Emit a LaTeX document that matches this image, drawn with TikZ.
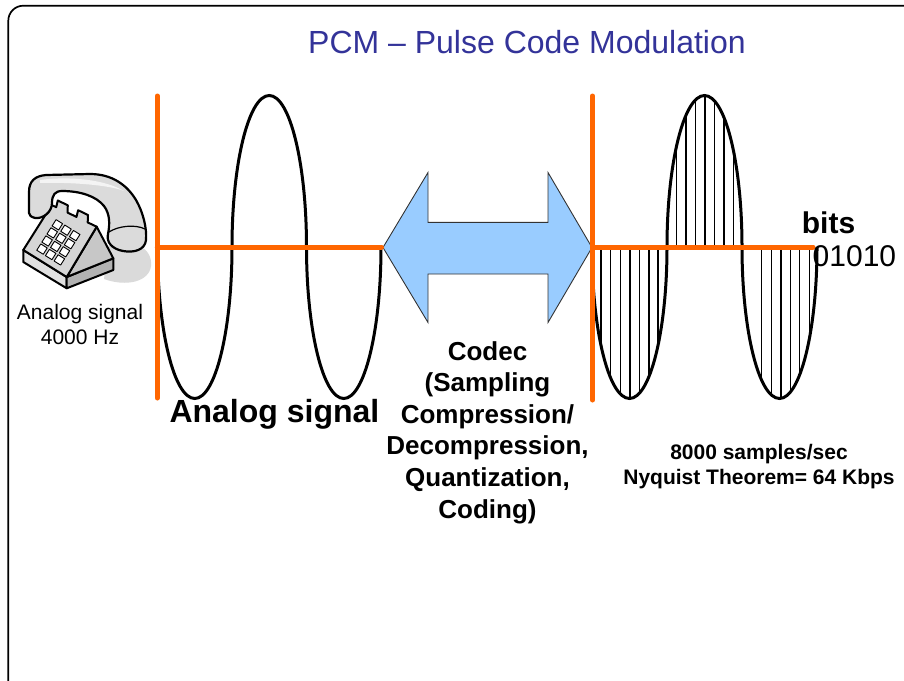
\documentclass[tikz,border=0pt]{standalone}
\usepackage{fontspec}
\setmainfont{Liberation Sans}
\usetikzlibrary{calc}
\definecolor{pcmorange}{RGB}{255,102,0}
\definecolor{codecblue}{RGB}{153,204,255}
\definecolor{titleblue}{RGB}{51,51,153}
\definecolor{shadowgray}{RGB}{218,218,218}
\newcommand\fsz[2]{\fontsize{#1}{#2}\selectfont}
\begin{document}
\begin{tikzpicture}[x=1pt,y=-1pt,
  axisline/.style={draw=pcmorange,line width=5pt,line cap=round},
  waveline/.style={draw=black,line width=3pt},
  sampleline/.style={draw=black,line width=1.4pt},
  phoneline/.style={draw=black,line width=2pt,line join=round},
  keycap/.style={draw=black,line width=0.9pt,fill=white,line join=round},
  label/.style={inner sep=0pt,text=black},
  codecarrow/.style={fill=codecblue,draw=black!80,line width=0.9pt,line join=miter}]
\useasboundingbox (0,0) rectangle (904,680);
\clip (0,0) rectangle (904,680);
\fill[white] (0,0) rectangle (904,680);

% slide frame
\draw[line width=1.7pt,rounded corners=15pt] (8.3,5.7) rectangle (940,710);

% title
\node[label,anchor=base west,text=titleblue,font=\fsz{32}{38}] (title) at (308,53.5)
  {PCM -- Pulse Code Modulation};

% ---------- telephone ----------
\fill[shadowgray] (108,246) .. controls (132,236) and (153,248) .. (151,266)
  .. controls (149,282) and (126,287) .. (104,279) -- cycle;
\coordinate (BL) at (23.3,250);
\coordinate (TL) at (51.7,205);
\coordinate (TR) at (96.7,226.7);
\coordinate (BR) at (66.7,277);
\coordinate (RB) at (113.3,258.3);
\coordinate (RB2) at (113.3,270);
\coordinate (BB) at (66.7,288.3);
\coordinate (LB) at (23.3,262);
\coordinate (U) at (43.4,27);
\coordinate (V) at (28.4,-45);
% base of the set
\filldraw[phoneline,fill=black!12] (BL) -- (BR) -- (BB) -- (LB) -- cycle;
\filldraw[phoneline,fill=black!30] (BR) -- (RB) -- (RB2) -- (BB) -- cycle;
% sloping right side
\filldraw[phoneline,fill=black!22] (BR) -- (TR) -- (RB) -- cycle;
% keypad face with the cradle hooks
\filldraw[phoneline,fill=black!16] (BL) -- (TL) -- (56.2,207.2) -- (57.8,200.5)
  -- (67.8,205.3) -- (67.5,212.6) -- (76.5,216.9) -- (78.1,210.2)
  -- (88,215) -- (87.7,222.4) -- (TR) -- (BR) -- cycle;
% keys
\foreach \a in {0.3,0.5,0.7}{
  \foreach \b in {0.2,0.38,0.56,0.74}{
    \pgfmathsetmacro\al{\a-0.075}
    \pgfmathsetmacro\ah{\a+0.075}
    \pgfmathsetmacro\bl{\b-0.07}
    \pgfmathsetmacro\bh{\b+0.07}
    \filldraw[keycap] ($(BL)+\al*(U)+\bl*(V)$) -- ($(BL)+\ah*(U)+\bl*(V)$)
      -- ($(BL)+\ah*(U)+\bh*(V)$) -- ($(BL)+\al*(U)+\bh*(V)$) -- cycle;
  }
}
% handset
\filldraw[phoneline,line width=2.2pt,fill=black!14] (29,213) -- (29,192)
  .. controls (29,181) and (35,176) .. (46,175)
  -- (90,174) .. controls (112,174) and (127,185) .. (136,200)
  .. controls (143,212) and (147,228) .. (146,240)
  .. controls (145,250) and (134,253) .. (123,251)
  .. controls (112,249) and (106,242) .. (108,234)
  .. controls (110,224) and (110,214) .. (104,206)
  .. controls (96,196) and (80,191) .. (62,191)
  .. controls (55,191) and (52,195) .. (52,203)
  .. controls (52,212) and (43,219) .. (35,218)
  .. controls (31,217) and (29,215) .. (29,213) -- cycle;
\fill[white,opacity=0.7] (40,180) .. controls (60,177) and (100,177) .. (124,191)
  .. controls (110,185) and (70,182) .. (40,183) -- cycle;
\draw[phoneline,line width=1.2pt] (109,232) .. controls (118,226) and (135,224) .. (145,229);

\node[label,align=center,font=\fsz{21}{25.7}] (phonelabel) at (80,324.5)
  {Analog signal\\4000 Hz};

% ---------- analog side ----------
\draw[waveline] (157.5,247)
  .. controls (157.5,330.7) and (174.18,398.5) .. (194.75,398.5)
  .. controls (215.32,398.5) and (232,330.7) .. (232,247)
  .. controls (232,163.3) and (248.68,95.5) .. (269.25,95.5)
  .. controls (289.82,95.5) and (306.5,163.3) .. (306.5,247)
  .. controls (306.5,330.7) and (323.18,398.5) .. (343.75,398.5)
  .. controls (364.32,398.5) and (381,330.7) .. (381,247);

% ---------- codec arrow ----------
\filldraw[codecarrow] (383,247.5) -- (428,172.5) -- (428,222.3) -- (548,222.3)
  -- (548,172.5) -- (592,247.5) -- (548,322.5) -- (548,274) -- (428,274)
  -- (428,322.5) -- cycle;

% ---------- sampled side ----------
\foreach \x in {601,610.7,620.3,630,639.3,649,658}{
  \pgfmathsetmacro\h{151.5*sqrt(max(0,1-((\x-629.5)/37.5)^2))}
  \draw[sampleline] (\x,247) -- ++(0,\h);
}
\foreach \x in {676.7,686,695.3,705,714.7,724,733.7}{
  \pgfmathsetmacro\h{151.5*sqrt(max(0,1-((\x-704.5)/37.5)^2))}
  \draw[sampleline] (\x,247) -- ++(0,-\h);
}
\foreach \x in {761.7,771.3,781,790.3,799.7,809.3}{
  \pgfmathsetmacro\h{151.5*sqrt(max(0,1-((\x-779.5)/37.5)^2))}
  \draw[sampleline] (\x,247) -- ++(0,\h);
}
\draw[waveline] (592,247)
  .. controls (592,330.7) and (608.79,398.5) .. (629.5,398.5)
  .. controls (650.21,398.5) and (667,330.7) .. (667,247)
  .. controls (667,163.3) and (683.79,95.5) .. (704.5,95.5)
  .. controls (725.21,95.5) and (742,163.3) .. (742,247)
  .. controls (742,330.7) and (758.79,398.5) .. (779.5,398.5)
  .. controls (800.21,398.5) and (817,330.7) .. (817,247);

% ---------- axes ----------
\draw[axisline] (157.3,96) -- (157.3,398);
\draw[axisline] (157.3,247) -- (381.5,247);
\draw[axisline] (592.5,96) -- (592.5,400);
\draw[axisline] (592.5,247) -- (813,247);

% ---------- labels ----------
\node[label,anchor=base west,font=\fsz{32}{38}\bfseries] (analoglabel) at (169.3,422.3)
  {Analog signal};
\node[label,align=center,font=\fsz{26}{31.6}\bfseries] (codec) at (487.5,432.5)
  {Codec\\(Sampling\\Compression/\\Decompression,\\Quantization,\\Coding)};
\node[label,anchor=base west,font=\fsz{30}{36}\bfseries] (bitslabel) at (801.7,233.3)
  {bits};
\node[label,anchor=base west,font=\fsz{30}{36}] (bitsvalue) at (812.5,266.7)
  {01010};
\node[label,align=center,font=\fsz{21}{25}\bfseries] (ratelabel) at (759,466.5)
  {8000 samples/sec\\Nyquist Theorem= 64 Kbps};
\end{tikzpicture}
\end{document}
